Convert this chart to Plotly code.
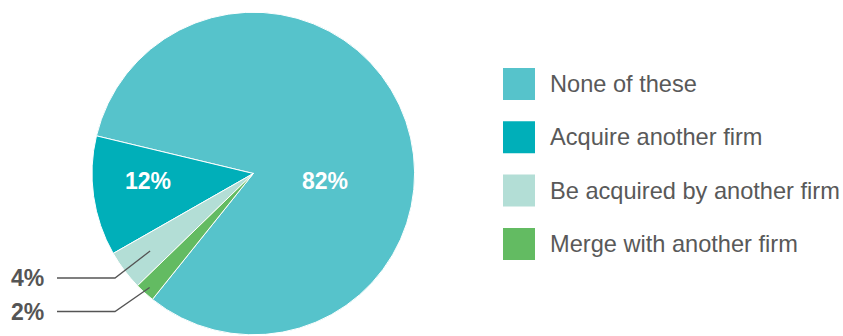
import math
import plotly.graph_objects as go

# Survey answers and their shares (%)
labels = ["None of these", "Acquire another firm", "Be acquired by another firm", "Merge with another firm"]
values = [82, 12, 4, 2]
colors = ["#56C3CB", "#00AFB9", "#B3DED6", "#63BB62"]

W, H = 843, 336
FONT = "Liberation Sans, Arial, Helvetica, sans-serif"
TEXT_GRAY = "#595959"

# Pie placement in pixels
cx, cy, r = 253.3, 173.5, 161.3
rotation = -76.5  # clockwise degrees from 12 o'clock where the first slice begins


def px(x):
    return x / W


def py(y):
    return 1 - y / H


fig = go.Figure(go.Pie(
    labels=labels,
    values=values,
    sort=False,
    direction="counterclockwise",
    rotation=rotation,
    marker=dict(colors=colors, line=dict(color="white", width=1)),
    textinfo="none",
    hoverinfo="label+percent",
    showlegend=False,
    domain=dict(x=[px(cx - r), px(cx + r)], y=[py(cy + r), py(cy - r)]),
))

# Slice angles (math convention, degrees) derived from the values
total = sum(values)
start_math = 90 - rotation  # boundary between first slice and the second
mids = []
# first slice spans clockwise from the rotation angle
mids.append(start_math - values[0] / total * 360 / 2)
a = start_math
for v in values[1:]:
    span = v / total * 360
    mids.append(a + span / 2)
    a += span


def slice_point(i, frac):
    ang = math.radians(mids[i])
    return cx + frac * r * math.cos(ang), cy - frac * r * math.sin(ang)


annotations = []
shapes = []

# In-slice labels for the two large slices
inside = {0: (325, 181), 1: (148, 181)}
for i, (x, y) in inside.items():
    annotations.append(dict(
        x=px(x), y=py(y), xref="paper", yref="paper", showarrow=False,
        text=f"<b>{values[i]}%</b>", font=dict(family=FONT, size=23, color="white"),
        xanchor="center", yanchor="middle",
    ))

# Callout labels with elbow leader lines for the two thin slices
callouts = {2: (0.80, 278), 3: (0.955, 311.5)}
for i, (frac, ly) in callouts.items():
    sx, sy = slice_point(i, frac)
    path = f"M {px(sx)},{py(sy)} L {px(115)},{py(ly)} L {px(57)},{py(ly)}"
    shapes.append(dict(type="path", xref="paper", yref="paper", path=path,
                       line=dict(color="#555555", width=1.3)))
    annotations.append(dict(
        x=px(46), y=py(ly), xref="paper", yref="paper", showarrow=False,
        text=f"<b>{values[i]}%</b>", font=dict(family=FONT, size=23, color="#555555"),
        xanchor="right", yanchor="middle",
    ))

# Legend: colour squares with category names
for k, (lab, col) in enumerate(zip(labels, colors)):
    top = 68 + k * 53.3
    shapes.append(dict(type="rect", xref="paper", yref="paper",
                       x0=px(503), x1=px(535), y0=py(top + 32), y1=py(top),
                       fillcolor=col, line=dict(width=0)))
    annotations.append(dict(
        x=px(548), y=py(top + 16), xref="paper", yref="paper", showarrow=False,
        text=lab, font=dict(family=FONT, size=23.6, color=TEXT_GRAY),
        xanchor="left", yanchor="middle",
    ))

fig.update_layout(
    width=W, height=H,
    margin=dict(l=0, r=0, t=0, b=0),
    paper_bgcolor="white", plot_bgcolor="white",
    shapes=shapes, annotations=annotations,
)

fig.write_html("out.html")
